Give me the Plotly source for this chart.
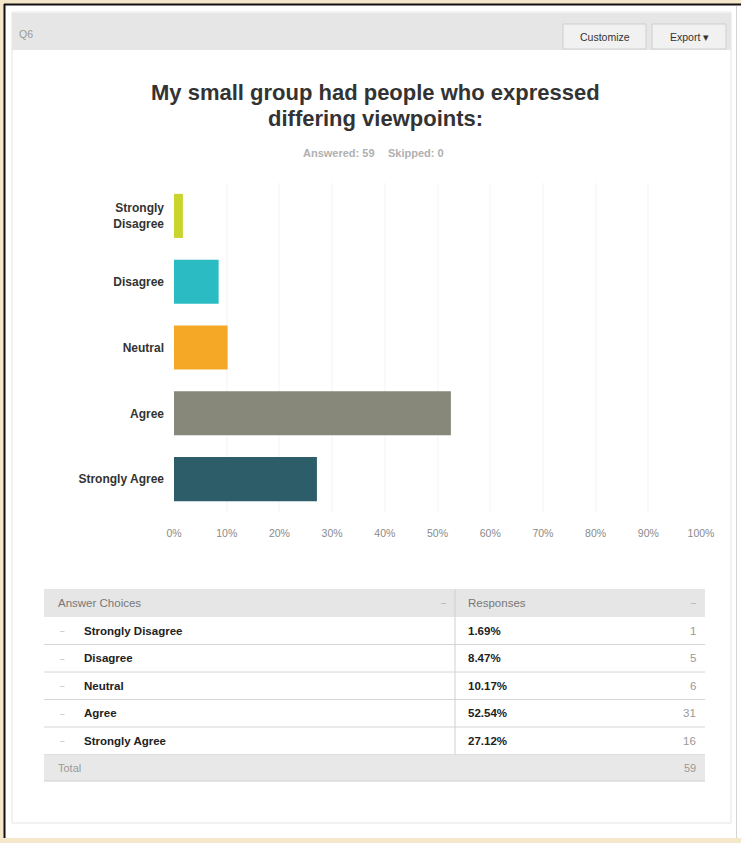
import plotly.graph_objects as go

# ---------------- data ----------------
categories = ["Strongly Disagree", "Disagree", "Neutral", "Agree", "Strongly Agree"]
axis_labels = ["Strongly<br>Disagree", "Disagree", "Neutral", "Agree", "Strongly Agree"]
percentages = [1.69, 8.47, 10.17, 52.54, 27.12]
counts = [1, 5, 6, 31, 16]
answered = 59
skipped = 0
question_id = "Q6"
title_lines = ["My small group had people who expressed", "differing viewpoints:"]
x_ticks = [0, 10, 20, 30, 40, 50, 60, 70, 80, 90, 100]

# ---------------- style ----------------
bar_colors = ["#c9d52c", "#2bbcc3", "#f4a826", "#878879", "#2e5d6a"]
FONT = "Liberation Sans, Arial, Helvetica, sans-serif"
W, H = 741, 843


def X(px):
    return px / W


def Y(py):
    return 1 - py / H


fig = go.Figure()
fig.add_trace(go.Bar(
    x=percentages, y=categories, orientation="h",
    marker=dict(color=bar_colors, line=dict(width=0)),
    hoverinfo="skip",
))

shapes = []
annotations = []


def rect(x0, y0, x1, y1, fill, line_color=None, line_width=0, layer="below"):
    shapes.append(dict(type="rect", xref="paper", yref="paper",
                       x0=X(x0), x1=X(x1), y0=Y(y1), y1=Y(y0),
                       fillcolor=fill, layer=layer,
                       line=dict(color=line_color or fill, width=line_width)))


def hline(x0, x1, y, color, width=1):
    shapes.append(dict(type="line", xref="paper", yref="paper",
                       x0=X(x0), x1=X(x1), y0=Y(y), y1=Y(y),
                       line=dict(color=color, width=width), layer="below"))


def vline(x, y0, y1, color, width=1):
    shapes.append(dict(type="line", xref="paper", yref="paper",
                       x0=X(x), x1=X(x), y0=Y(y0), y1=Y(y1),
                       line=dict(color=color, width=width), layer="below"))


def text(x, y, s, size=10, color="#333", bold=False, anchor="left"):
    annotations.append(dict(xref="paper", yref="paper", x=X(x), y=Y(y),
                            text=s, showarrow=False, xanchor=anchor, yanchor="middle",
                            font=dict(family=FONT, size=size, color=color,
                                      weight="bold" if bold else "normal")))


# outer frame
rect(4, 4, 745, 838, "#ffffff")
vline(4.5, 4, 838, "#111111", 2)
hline(4, 745, 4.5, "#111111", 2)
vline(736.5, 6, 838, "#d4d4d4", 1)
# inner panel
rect(12, 12, 731, 823, "#ffffff", "#e4e4e4", 1)
# header bar
rect(12, 13, 731, 50, "#e6e6e6")
text(17, 34, question_id, size=10.5, color="#9a9a9a")
rect(563, 24, 646, 49, "#f1f1f1", "#cfcfcf", 1)
text(604.5, 37, "Customize", size=10.5, color="#333", anchor="center")
rect(652, 24, 726, 49, "#f1f1f1", "#cfcfcf", 1)
text(689, 37, "Export ▾", size=10.5, color="#333", anchor="center")

# title
text(375, 93, title_lines[0], size=22, color="#333", bold=True, anchor="center")
text(375, 118, title_lines[1], size=22, color="#333", bold=True, anchor="center")
text(377, 153, f"Answered: {answered}", size=11, color="#b0b0b0", bold=True, anchor="right")
text(386, 153, f"Skipped: {skipped}", size=11, color="#b0b0b0", bold=True, anchor="left")

# table
TL, TR = 44, 705
TOP = 589
HEAD_H = 28
ROW_H = 27.5
DIV = 455
head_bottom = TOP + HEAD_H
rows_bottom = head_bottom + ROW_H * len(categories)
total_bottom = rows_bottom + 26.5
rect(TL, TOP, TR, head_bottom, "#e6e6e6")
text(56, TOP + HEAD_H / 2, "Answer Choices", size=11.5, color="#777")
text(443, TOP + HEAD_H / 2, "–", size=9, color="#aaa", anchor="center")
text(466, TOP + HEAD_H / 2, "Responses", size=11.5, color="#777")
text(693, TOP + HEAD_H / 2, "–", size=9, color="#aaa", anchor="center")
for i, (cat, pct, cnt) in enumerate(zip(categories, percentages, counts)):
    y0 = head_bottom + ROW_H * i
    yc = y0 + ROW_H / 2
    text(62, yc, "–", size=8, color="#aaa", anchor="center")
    text(82, yc, cat, size=11.5, color="#222", bold=True)
    text(466, yc, f"{pct:.2f}%", size=11.5, color="#222", bold=True)
    text(698, yc, str(cnt), size=11.5, color="#999", anchor="right")
    hline(TL, TR, y0 + ROW_H, "#d6d6d6", 1)
vline(DIV, TOP, rows_bottom, "#d0d0d0", 1)
rect(TL, rows_bottom, TR, total_bottom, "#e8e8e8")
hline(TL, TR, total_bottom, "#d0d0d0", 1)
text(56, (rows_bottom + total_bottom) / 2, "Total", size=11, color="#999")
text(698, (rows_bottom + total_bottom) / 2, str(sum(counts)), size=11, color="#999", anchor="right")

fig.update_layout(
    width=W, height=H, autosize=False,
    margin=dict(l=0, r=0, t=0, b=0, pad=0, autoexpand=False),
    paper_bgcolor="#f4e7ca",
    plot_bgcolor="#efefef",
    showlegend=False,
    bargap=0.33,
    font=dict(family=FONT),
    shapes=shapes,
    annotations=annotations,
    xaxis=dict(
        domain=[X(174), X(701)], range=[0, 100],
        tickvals=x_ticks, ticktext=[f"{v}%" for v in x_ticks],
        showgrid=True, gridcolor="#f9f9f9", gridwidth=2,
        zeroline=False, showline=False, ticks="",
        tickfont=dict(size=10.5, color="#8a8a8a"),
        ticklabelstandoff=13, fixedrange=True, automargin=False,
    ),
    yaxis=dict(
        domain=[Y(512), Y(183)],
        categoryorder="array", categoryarray=categories,
        autorange="reversed",
        tickvals=categories, ticktext=axis_labels,
        showgrid=False, zeroline=False, showline=False, ticks="",
        tickfont=dict(size=12, color="#333", weight="bold"),
        ticklabelstandoff=9, fixedrange=True, automargin=False,
    ),
)

fig.write_html(
    "out.html",
    config={"displayModeBar": False, "staticPlot": True},
    post_script="document.body.style.margin='0';document.body.style.overflow='hidden';",
)
